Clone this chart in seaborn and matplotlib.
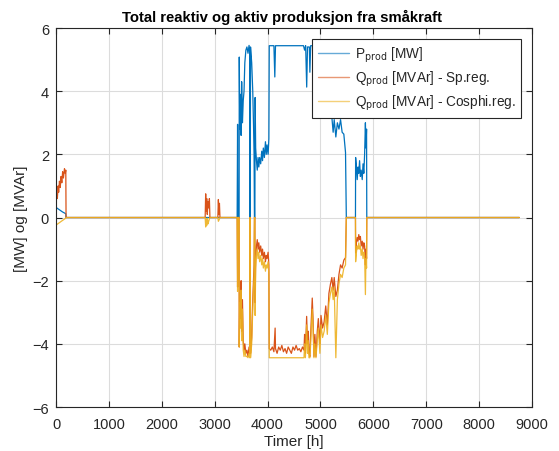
import numpy as np
import pandas as pd
import seaborn as sns
import matplotlib
matplotlib.use("Agg")
import matplotlib.pyplot as plt

# Active power production P [MW] (hour, value)
p_hours = [0, 60, 120, 185, 190, 3425, 3433, 3440, 3462, 3465, 3475, 3490, 3500, 3510,
           3525, 3540, 3555, 3570, 3590, 3610, 3630, 3650, 3662, 3666, 3672, 3678, 3700,
           3720, 3735, 3745, 3752, 3760, 3765, 3775, 3790, 3805, 3820, 3835, 3850, 3870,
           3890, 3905, 3920, 3940, 3960, 3975, 3990, 4010, 4025, 4032, 4120, 4137, 4150,
           4680, 4700, 4720, 4740, 4755, 4790, 4800, 4815, 4850, 4870, 4890, 4950, 5050,
           5100, 5150, 5200, 5216, 5240, 5260, 5291, 5320, 5350, 5380, 5410, 5442, 5474,
           5489, 5662, 5665, 5680, 5695, 5710, 5725, 5740, 5755, 5770, 5790, 5805, 5820,
           5835, 5850, 5860, 5872, 5876, 8760]
p_vals = [0.32, 0.25, 0.18, 0.12, 0.0, 0.0, 2.95, 0.0, 0.0, 5.08, 2.8, 3.9, 2.6, 4.3,
          3.0, 3.7, 4.0, 4.9, 5.3, 5.4, 5.2, 5.45, 5.3, 0.0, 0.0, 5.4, 4.9,
          4.0, 2.9, 2.0, 0.0, 0.0, 3.8, 2.2, 1.8, 1.5, 1.9, 1.6, 1.9, 1.7,
          2.1, 1.8, 2.2, 1.9, 2.4, 2.0, 2.3, 2.0, 2.5, 5.44, 5.44, 4.45, 5.44,
          5.44, 5.3, 5.44, 4.13, 5.4, 5.4, 4.6, 5.44, 5.44, 3.7, 5.4, 5.44, 5.3,
          4.8, 5.0, 3.4, 3.17, 2.7, 3.1, 2.55, 3.0, 2.8, 3.1, 2.7, 2.64, 2.06,
          0.0, 0.0, 1.9, 1.6, 1.2, 1.6, 1.4, 1.8, 1.3, 1.5, 1.2, 1.7, 1.4,
          2.0, 3.0, 2.2, 2.8, 0.0, 0.0]

# Reactive power with voltage regulation Q [MVAr] (hour, value)
qs_hours = [0, 15, 25, 40, 50, 65, 80, 95, 110, 125, 140, 160, 175, 185, 190,
            2820, 2830, 2840, 2850, 2860, 2875, 2890, 2900, 2910, 3060, 3070, 3080, 3090, 3100,
            3425, 3433, 3440, 3462, 3465, 3475, 3490, 3500, 3510, 3525, 3540, 3555, 3570,
            3590, 3610, 3630, 3650, 3662, 3666, 3672, 3678, 3700, 3720, 3735, 3745, 3752,
            3760, 3765, 3775, 3790, 3805, 3820, 3835, 3850, 3870, 3890, 3905, 3920, 3940,
            3960, 3975, 3990, 4010, 4025, 4032, 4060, 4090, 4120, 4143, 4150, 4180, 4210,
            4240, 4270, 4300, 4330, 4360, 4390, 4420, 4450, 4480, 4510, 4540, 4570, 4600,
            4630, 4660, 4689, 4700, 4715, 4739, 4755, 4770, 4783, 4800, 4815, 4845, 4860,
            4877, 4895, 4915, 4940, 4960, 4990, 5010, 5040, 5070, 5100, 5130, 5160, 5190,
            5216, 5240, 5260, 5291, 5320, 5350, 5380, 5410, 5442, 5474, 5489, 5662, 5665,
            5680, 5695, 5710, 5725, 5740, 5755, 5770, 5790, 5805, 5820, 5835, 5850, 5860,
            5872, 5876, 8760]
qs_vals = [0.48, 0.7, 0.6, 1.0, 0.8, 1.15, 0.95, 1.3, 1.1, 1.45, 1.25, 1.55, 1.4, 1.5, 0.0,
           0.0, 0.75, 0.2, 0.6, 0.1, 0.5, 0.3, 0.6, 0.0, 0.0, 0.57, 0.1, 0.45, 0.0,
           0.0, -2.2, 0.0, 0.0, -4.1, -2.4, -3.2, -2.0, -3.6, -2.6, -3.9, -4.2, -4.0,
           -4.3, -4.2, -4.4, -4.1, -4.3, 0.0, 0.0, -4.3, -3.8, -2.6, -1.9, -1.5, 0.0,
           0.0, -2.7, -1.3, -0.9, -0.7, -1.0, -0.8, -1.1, -0.9, -1.2, -1.0, -1.3, -1.1,
           -1.4, -1.2, -1.3, -1.1, -1.5, -4.15, -4.2, -4.1, -4.25, -3.5, -4.15, -4.3, -4.1,
           -4.2, -4.05, -4.25, -4.15, -4.3, -4.1, -4.2, -4.3, -4.1, -4.2, -4.05, -4.2, -4.15,
           -4.25, -4.1, -4.2, -3.7, -4.3, -3.13, -4.0, -3.6, -4.3, -4.4, -3.7, -2.55, -3.2,
           -4.4, -3.7, -4.4, -3.6, -3.2, -4.0, -3.1, -3.5, -3.3, -2.8, -3.4, -2.4, -2.1,
           -1.9, -2.3, -1.9, -2.5, -2.3, -1.8, -1.5, -1.6, -1.35, -1.27, 0.0, 0.0, -1.12,
           -0.8, -0.63, -0.75, -0.54, -0.7, -0.6, -0.9, -0.75, -1.0, -0.8, -0.9, -1.5, -1.0,
           -1.3, 0.0, 0.0]

# Reactive power with cos(phi) regulation Q [MVAr] (hour, value)
qc_hours = [0, 100, 185, 190, 2820, 2830, 2840, 2850, 2860, 2875, 2890, 2910, 3060, 3070,
            3090, 3100, 3425, 3433, 3440, 3462, 3465, 3475, 3490, 3500, 3510, 3525, 3540,
            3555, 3570, 3590, 3610, 3630, 3650, 3662, 3666, 3672, 3678, 3700, 3720, 3735,
            3745, 3752, 3760, 3765, 3775, 3790, 3805, 3820, 3835, 3850, 3870, 3890, 3905,
            3920, 3940, 3960, 3975, 3990, 4010, 4025, 4032, 4689, 4700, 4715, 4739, 4755,
            4770, 4783, 4800, 4815, 4845, 4860, 4877, 4895, 4915, 4940, 4960, 4990, 5010,
            5040, 5070, 5100, 5130, 5160, 5190, 5216, 5240, 5260, 5291, 5320, 5350, 5380,
            5410, 5442, 5474, 5489, 5662, 5665, 5680, 5695, 5710, 5725, 5740, 5755, 5770,
            5790, 5805, 5820, 5835, 5850, 5860, 5872, 5876, 8760]
qc_vals = [-0.24, -0.12, -0.02, 0.0, 0.0, -0.3, -0.05, -0.25, -0.02, -0.2, -0.1, 0.0, 0.0, -0.12,
           -0.05, 0.0, 0.0, -2.34, 0.0, 0.0, -4.1, -2.7, -3.5, -2.3, -3.9, -2.9, -4.2,
           -4.4, -4.2, -4.4, -4.4, -4.44, -4.3, -4.44, 0.0, 0.0, -4.44, -4.0, -2.9, -2.2,
           -1.8, 0.0, 0.0, -3.1, -1.6, -1.2, -1.0, -1.3, -1.1, -1.4, -1.2, -1.5, -1.3,
           -1.6, -1.4, -1.7, -1.5, -1.6, -1.4, -1.8, -4.44, -4.44, -4.0, -4.44, -3.4, -4.3,
           -3.9, -4.44, -4.44, -4.0, -2.9, -3.5, -4.44, -4.0, -4.44, -3.9, -3.5, -4.3, -3.4,
           -3.8, -3.6, -3.1, -3.7, -2.7, -2.4, -2.2, -2.6, -2.2, -4.44, -2.6, -2.1, -1.8,
           -1.9, -1.6, -1.5, 0.0, 0.0, -1.4, -1.1, -0.9, -1.0, -0.8, -1.0, -0.9, -1.2,
           -1.0, -1.3, -1.1, -1.2, -2.44, -1.3, -1.6, 0.0, 0.0]

x_ticks = [0, 1000, 2000, 3000, 4000, 5000, 6000, 7000, 8000, 9000]
y_ticks = [-6, -4, -2, 0, 2, 4, 6]

sns.set_style("white")
plt.rcParams["font.family"] = ["Liberation Sans", "DejaVu Sans"]

fig = plt.figure(figsize=(5.59, 4.52), dpi=100)
ax = fig.add_axes([0.1002, 0.0973, 0.8515, 0.8385])

blue, orange, yellow = "#0072BD", "#D95319", "#EDB120"
sns.lineplot(x=p_hours, y=p_vals, estimator=None, sort=False, color=blue,
             linewidth=0.9, ax=ax, label=r"P$_{\mathrm{prod}}$ [MW]")
sns.lineplot(x=qs_hours, y=qs_vals, estimator=None, sort=False, color=orange,
             linewidth=0.9, ax=ax, label=r"Q$_{\mathrm{prod}}$ [MVAr] - Sp.reg.")
sns.lineplot(x=qc_hours, y=qc_vals, estimator=None, sort=False, color=yellow,
             linewidth=0.9, alpha=0.9, ax=ax, label=r"Q$_{\mathrm{prod}}$ [MVAr] - Cosphi.reg.")

ax.set_xlim(0, 9000)
ax.set_ylim(-6, 6)
ax.set_xticks(x_ticks)
ax.set_yticks(y_ticks)
ax.grid(True, color="#dcdcdc", linewidth=0.8)
ax.set_axisbelow(True)
ax.tick_params(direction="in", length=4, width=0.8, colors="#262626",
               labelsize=10.5, top=True, right=True, bottom=True, left=True)
ax.tick_params(axis="x", pad=7)
ax.tick_params(axis="y", pad=5)
for s in ax.spines.values():
    s.set_visible(True)
    s.set_color("#262626")
    s.set_linewidth(0.8)

ax.set_title("Total reaktiv og aktiv produksjon fra småkraft", fontsize=10.7,
             fontweight="bold", color="black", pad=5, x=0.475)
ax.set_xlabel("Timer [h]", fontsize=11, color="#262626", labelpad=2)
ax.set_ylabel("[MW] og [MVAr]", fontsize=11, color="#262626", labelpad=3)

leg = ax.legend(loc="upper right", bbox_to_anchor=(0.977, 0.97), fontsize=9.8,
                frameon=True, fancybox=False, framealpha=1, edgecolor="#262626",
                handlelength=2.3, handletextpad=0.4, borderpad=0.4, labelspacing=0.35,
                borderaxespad=0)
leg.get_frame().set_linewidth(0.8)
for line in leg.get_lines():
    line.set_linewidth(1.0)
    line.set_alpha(0.6)

fig.savefig("out.png", dpi=100)
